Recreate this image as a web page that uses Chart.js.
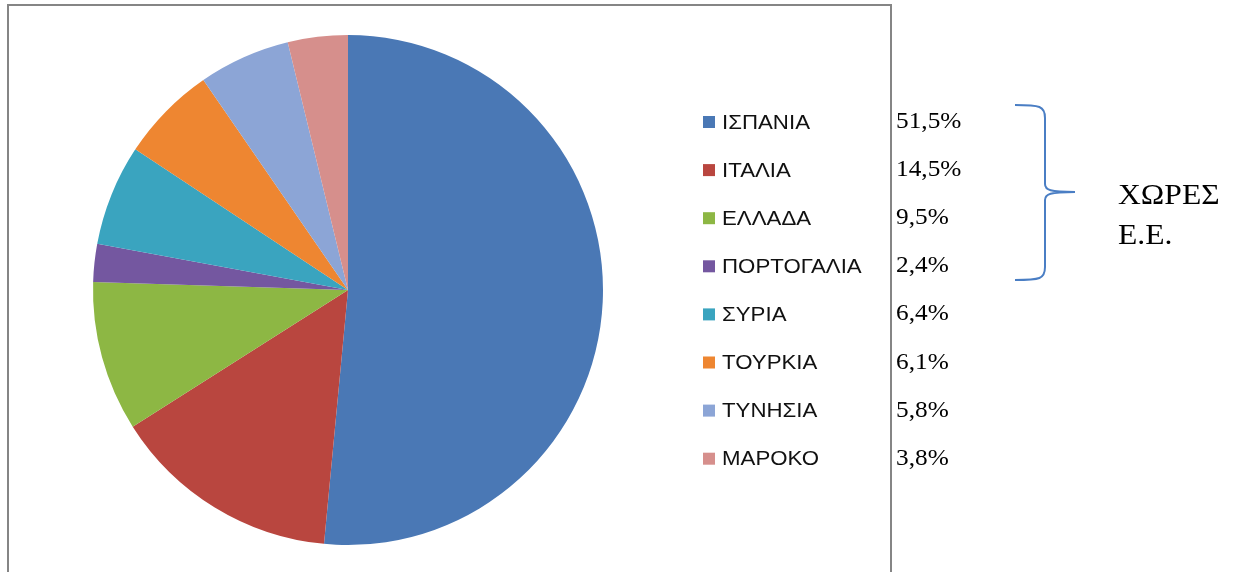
<!DOCTYPE html>
<html>
<head>
<meta charset="utf-8">
<script src="https://cdn.jsdelivr.net/npm/chart.js@4.4.1/dist/chart.umd.min.js"></script>
<style>
  html, body { margin: 0; padding: 0; background: #fff; width: 1238px; height: 572px; overflow: hidden; }
  #wrap { position: absolute; left: 0; top: 0; width: 1238px; height: 572px; }
  #frame { position: absolute; left: 7px; top: 4px; width: 885px; height: 580px; border: 2px solid #858585; box-sizing: border-box; }
  canvas { position: absolute; left: 0; top: 0; }
  .pct { position: absolute; left: 896px; font-family: "Liberation Serif", "Times New Roman", serif; font-size: 23px; color: #000; transform-origin: 0 50%; transform: scaleX(1.1); line-height: 1; }
  .eu { position: absolute; left: 1118px; font-family: "Liberation Serif", "Times New Roman", serif; font-size: 29px; color: #000; transform-origin: 0 50%; transform: scaleX(1.09); line-height: 1; }
  svg { position: absolute; left: 0; top: 0; }
</style>
</head>
<body>
<div id="wrap">
  <div id="frame"></div>
  <canvas id="c" width="1238" height="572"></canvas>
  <div id="pcts"></div>
  <svg width="1238" height="572">
    <path d="M1015,105 C1040,105 1045,106 1045,118 L1045,184 C1045,190 1050,192 1075,192 C1050,192 1045,194 1045,200 L1045,267 C1045,279 1040,280 1015,280" fill="none" stroke="#4A7EC4" stroke-width="2"/>
  </svg>
  <div class="eu" style="top:180px;">ΧΩΡΕΣ</div>
  <div class="eu" style="top:220px;">Ε.Ε.</div>
</div>
<script>
const categories = ["ΙΣΠΑΝΙΑ", "ΙΤΑΛΙΑ", "ΕΛΛΑΔΑ", "ΠΟΡΤΟΓΑΛΙΑ", "ΣΥΡΙΑ", "ΤΟΥΡΚΙΑ", "ΤΥΝΗΣΙΑ", "ΜΑΡΟΚΟ"];
const shares = [51.5, 14.5, 9.5, 2.4, 6.4, 6.1, 5.8, 3.8];
const shareLabels = ["51,5%", "14,5%", "9,5%", "2,4%", "6,4%", "6,1%", "5,8%", "3,8%"];
const colors = ["#4A78B5", "#B9463F", "#8DB744", "#7457A0", "#3AA4BF", "#EE8631", "#8CA5D6", "#D68F8C"];

// percentage labels beside the frame
const pctBox = document.getElementById('pcts');
shareLabels.forEach((t, i) => {
  const d = document.createElement('div');
  d.className = 'pct';
  d.style.top = (109 + i * 48.1) + 'px';
  d.textContent = t;
  pctBox.appendChild(d);
});

const legendPlugin = {
  id: 'customLegend',
  afterDraw(chart) {
    const ctx = chart.ctx;
    const ds = chart.data.datasets[0];
    ctx.save();
    chart.data.labels.forEach((lab, i) => {
      const cy = 122 + i * 48.1;
      ctx.fillStyle = ds.backgroundColor[i];
      ctx.fillRect(703, cy - 6, 12, 12);
      ctx.save();
      ctx.translate(722, cy);
      ctx.scale(1.06, 1);
      ctx.fillStyle = '#111';
      ctx.font = '21px "Liberation Sans", Arial, sans-serif';
      ctx.textBaseline = 'middle';
      ctx.textAlign = 'left';
      ctx.fillText(lab, 0, 1);
      ctx.restore();
    });
    ctx.restore();
  }
};

new Chart(document.getElementById('c'), {
  type: 'pie',
  data: {
    labels: categories,
    datasets: [{
      data: shares,
      backgroundColor: colors,
      borderWidth: 0
    }]
  },
  options: {
    responsive: false,
    animation: false,
    layout: { padding: { left: 93, right: 635, top: 35, bottom: 27 } },
    plugins: {
      legend: { display: false },
      tooltip: { enabled: false }
    }
  },
  plugins: [legendPlugin]
});
</script>
</body>
</html>
